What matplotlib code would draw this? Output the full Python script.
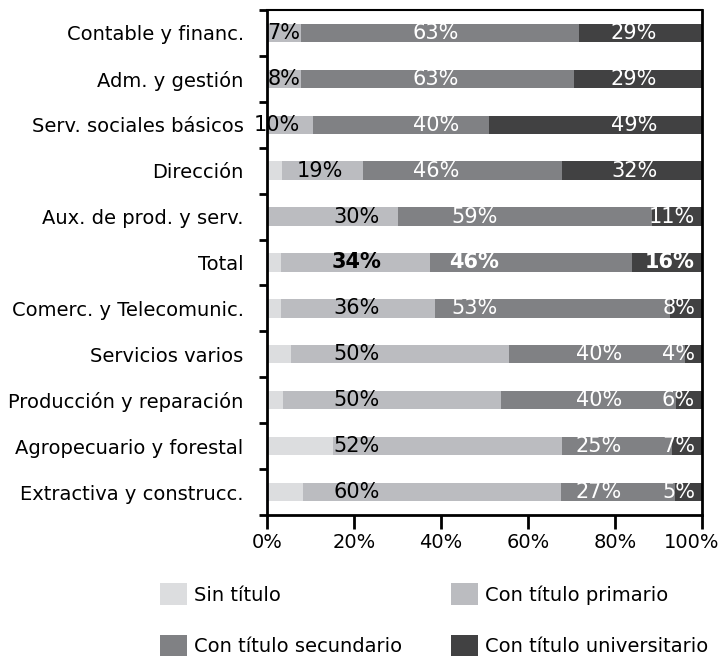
import matplotlib
matplotlib.use("Agg")
import matplotlib.pyplot as plt
import matplotlib.transforms as mtransforms
from matplotlib.patches import Patch
import numpy as np

categories = ["Contable y financ.", "Adm. y gestión", "Serv. sociales básicos", "Dirección",
              "Aux. de prod. y serv.", "Total", "Comerc. y Telecomunic.", "Servicios varios",
              "Producción y reparación", "Agropecuario y forestal", "Extractiva y construcc."]
series_names = ["Sin título", "Con título primario", "Con título secundario", "Con título universitario"]
sin_titulo = [0, 0, 0, 3.4, 0, 3.2, 3.2, 5.5, 3.6, 15.0, 8.1]
primario = [7.7, 7.7, 10.4, 18.6, 30.0, 34.3, 35.4, 50.1, 50.2, 52.8, 59.5]
secundario = [63.9, 62.9, 40.6, 45.8, 58.6, 46.5, 54.1, 40.4, 40.2, 25.4, 26.2]
universitario = [28.4, 29.4, 49.0, 32.2, 11.4, 16.0, 7.3, 4.0, 6.0, 6.8, 6.2]
lbl_prim = ["7%", "8%", "10%", "19%", "30%", "34%", "36%", "50%", "50%", "52%", "60%"]
lbl_sec = ["63%", "63%", "40%", "46%", "59%", "46%", "53%", "40%", "40%", "25%", "27%"]
lbl_uni = ["29%", "29%", "49%", "32%", "11%", "16%", "8%", "4%", "6%", "7%", "5%"]
xticks = [0, 20, 40, 60, 80, 100]

colors = ["#dcdddf", "#bbbcc0", "#808184", "#414142"]
plt.rcParams["font.family"] = ["DejaVu Sans"]

fig = plt.figure(figsize=(7.25, 6.56), dpi=100)
W, H = 725, 656
ax = fig.add_axes([267.3 / W, 1 - 515 / H, (702 - 267.3) / W, (515 - 10) / H])

n = len(categories)
y = np.arange(n)
left = np.zeros(n)
for vals, c, name in zip([sin_titulo, primario, secundario, universitario], colors, series_names):
    ax.barh(y, vals, left=left, height=0.4, color=c, label=name, linewidth=0)
    left = left + np.array(vals)

ax.set_xlim(0, 100)
ax.set_ylim(n - 0.5, -0.5)
ax.set_xticks(xticks)
ax.set_xticklabels([f"{v}%" for v in xticks], fontsize=14)
ax.set_yticks(np.arange(-0.5, n, 1.0))
ax.set_yticklabels([])
ax.set_yticks(y, minor=True)
ax.set_yticklabels(categories, minor=True, fontsize=14)
ax.tick_params(axis="y", which="minor", length=0, pad=17)
ax.tick_params(axis="y", which="major", length=6, width=2, direction="out")
ax.tick_params(axis="x", length=10, width=2, direction="out", pad=3)
for s in ["left", "right", "bottom"]:
    ax.spines[s].set_linewidth(2)
ax.spines["top"].set_linewidth(1.5)

# shift the last tick label left so it stays inside the figure
last = ax.get_xticklabels()[-1]
last.set_transform(last.get_transform() + mtransforms.ScaledTranslation(-10 / 100, 0, fig.dpi_scale_trans))

fs = 15
for i in range(n):
    bold = "bold" if categories[i] == "Total" else "normal"
    if i < 3:
        ax.text(7.6, i, lbl_prim[i], ha="right", va="center", fontsize=fs, color="black", fontweight=bold, clip_on=False)
    elif i == 3:
        ax.text(12.0, i, lbl_prim[i], ha="center", va="center", fontsize=fs, color="black", fontweight=bold)
    else:
        ax.text(20.6, i, lbl_prim[i], ha="center", va="center", fontsize=fs, color="black", fontweight=bold)
    if i < 4:
        xs = 38.8
    elif i < 7:
        xs = 47.6
    else:
        xs = 76.3
    ax.text(xs, i, lbl_sec[i], ha="center", va="center", fontsize=fs, color="white", fontweight=bold)
    if i < 4:
        ax.text(84.4, i, lbl_uni[i], ha="center", va="center", fontsize=fs, color="white", fontweight=bold)
    else:
        ax.text(98.4, i, lbl_uni[i], ha="right", va="center", fontsize=fs, color="white", fontweight=bold)

leg_kw = dict(loc="upper left", frameon=False, fontsize=14, handlelength=1.4, handleheight=1.4,
              handletextpad=0.35, labelspacing=1.5, borderpad=0, borderaxespad=0)
ph = [Patch(color=c, linewidth=0) for c in colors]
leg1 = fig.legend([ph[0], ph[2]], [series_names[0], series_names[2]],
                  bbox_to_anchor=(160 / W, 1 - 583 / H), **leg_kw)
leg2 = fig.legend([ph[1], ph[3]], [series_names[1], series_names[3]],
                  bbox_to_anchor=(451 / W, 1 - 583 / H), **leg_kw)

fig.savefig("out.png", dpi=100)
